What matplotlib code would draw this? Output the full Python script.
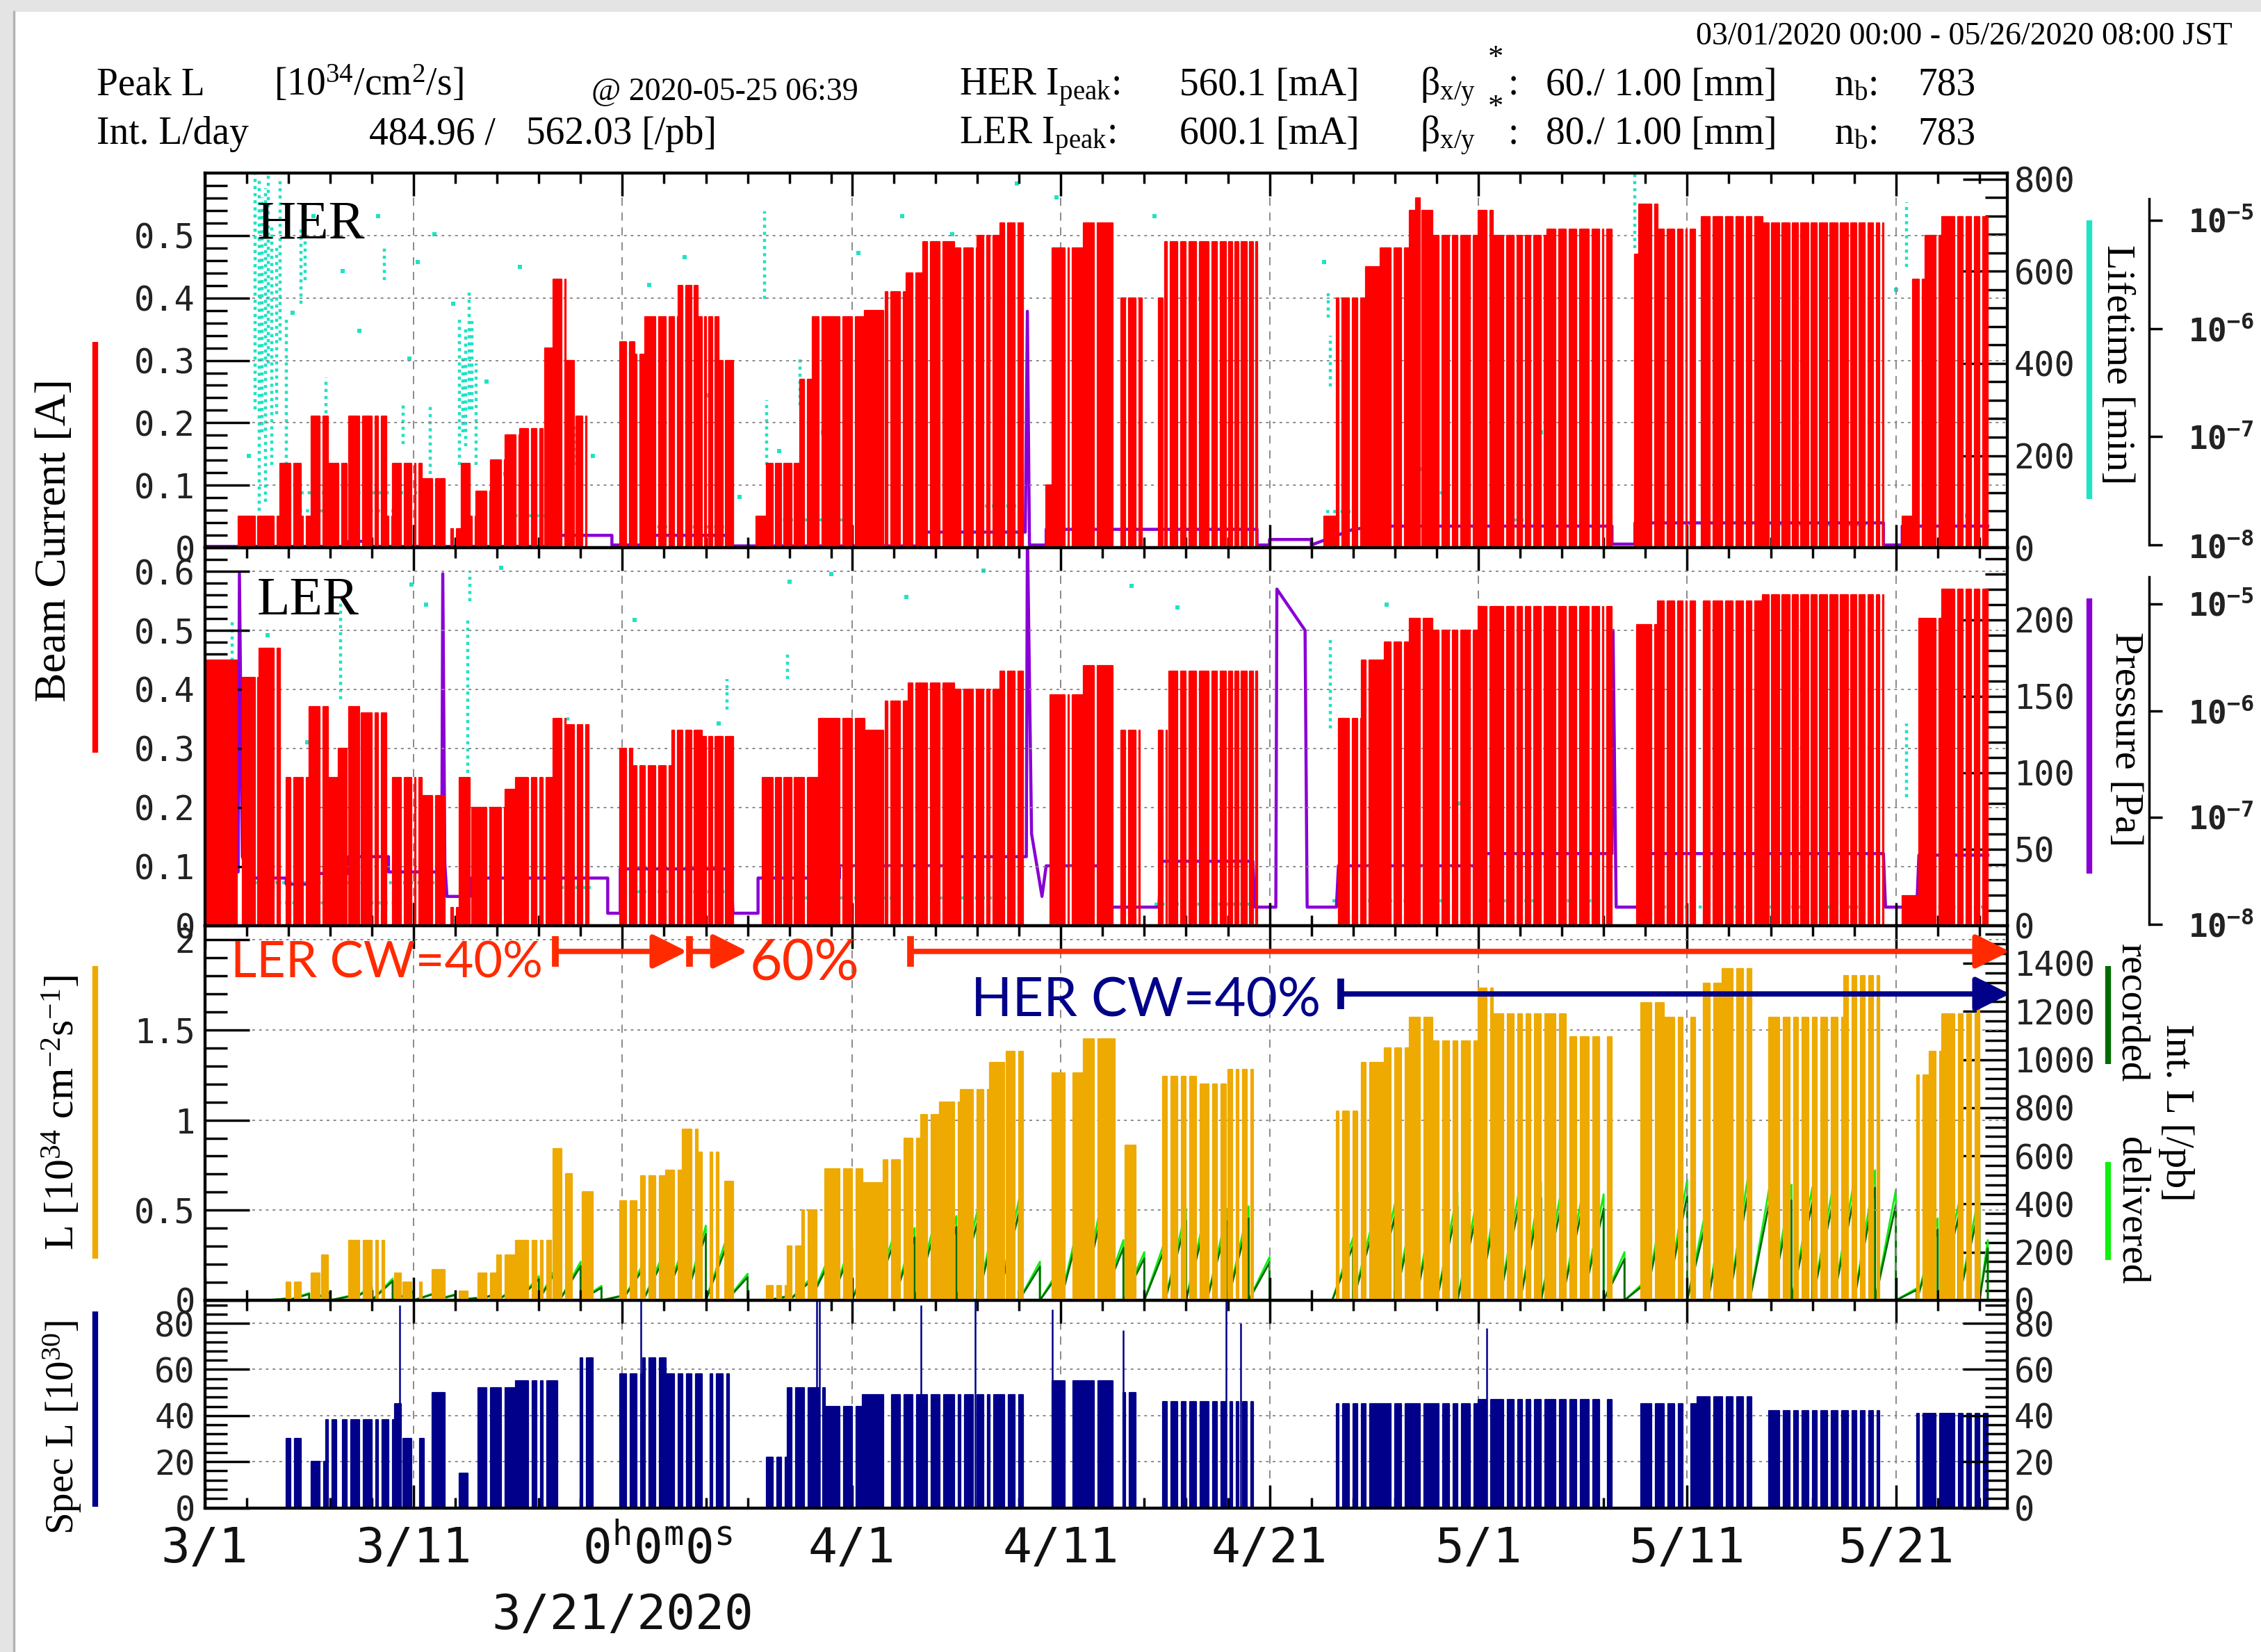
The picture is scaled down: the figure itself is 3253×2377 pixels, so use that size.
import numpy as np
import matplotlib.pyplot as plt
from matplotlib.lines import Line2D
from matplotlib.patches import Rectangle
from matplotlib.ticker import FixedLocator, NullLocator

plt.rcParams['font.family'] = ['Liberation Serif', 'DejaVu Serif']
plt.rcParams['mathtext.fontset'] = 'custom'
plt.rcParams['mathtext.rm'] = 'Liberation Serif'
plt.rcParams['mathtext.it'] = 'Liberation Serif:italic'
plt.rcParams['mathtext.tt'] = 'DejaVu Sans Mono'
plt.rcParams['mathtext.bf'] = 'DejaVu Sans Mono:bold'

# time axis in days since 2020-03-01 00:00 JST
T_END = 86.33
DATE_TICKS = [0, 10, 20, 31, 41, 51, 61, 71, 81]
DATE_LABELS = ['3/1', '3/11', '', '4/1', '4/11', '4/21', '5/1', '5/11', '5/21']
MINOR_DAYS = list(range(2, 31, 2)) + list(range(33, 86, 2))

# beam aborts (day of the drop)
BEAM_OFF = [2.4, 3.3, 4.1, 4.7, 5.5, 5.9, 6.4, 6.8, 7.4, 8.0, 8.3, 8.8, 9.4, 9.9,
            10.1, 10.9, 11.9, 12.8, 13.5, 14.2, 14.9, 15.5, 15.9, 16.2, 17.1, 17.7,
            18.1, 20.2, 20.7, 21.1, 21.6, 22.1, 22.5, 22.9, 23.3, 23.8, 24.0, 24.3,
            24.8, 27.2, 27.6, 28.1, 28.7, 29.4, 30.4, 31.0, 32.5, 32.7, 33.3, 33.9,
            34.6, 35.2, 35.9, 36.2, 36.8, 37.3, 37.6, 38.3, 38.8, 41.2, 41.4, 42.6,
            44.1, 44.6, 45.9, 46.1, 46.6, 47.0, 47.5, 48.1, 48.5, 48.9, 49.2, 49.5,
            49.9, 50.2, 54.3, 54.8, 55.2, 55.6, 56.8, 57.3, 58.2, 59.1, 59.6, 60.0,
            60.6, 61.4, 62.2, 62.7, 63.1, 63.5, 64.0, 64.7, 65.2, 65.7, 66.3, 66.8,
            67.0, 69.3, 69.9, 70.4, 70.8, 71.0, 72.1, 72.7, 73.2, 73.7, 74.1, 74.9,
            75.4, 75.9, 76.3, 76.8, 77.2, 77.7, 78.2, 78.7, 79.1, 79.5, 79.9, 80.2,
            82.1, 82.9, 83.8, 84.2, 84.6, 85.0]

# stored beam current [A]: (start day, end day, level)
HER_SEG = [(1.6, 3.6, 0.05), (3.6, 4.6, 0.135), (4.6, 5.1, 0.05), (5.1, 5.9, 0.21),
           (5.9, 6.9, 0.135), (6.9, 8.7, 0.21), (8.7, 9.0, 0.05), (9.0, 10.4, 0.135),
           (10.4, 11.5, 0.11), (11.8, 12.3, 0.03), (12.3, 12.7, 0.135), (12.7, 13.0, 0.05),
           (13.0, 13.7, 0.09), (13.7, 14.4, 0.14), (14.4, 15.1, 0.18), (15.1, 16.3, 0.19),
           (16.3, 16.7, 0.32), (16.7, 17.3, 0.43), (17.3, 17.8, 0.30), (17.8, 18.3, 0.21),
           (19.9, 20.6, 0.33), (20.6, 21.1, 0.31), (21.1, 22.7, 0.37), (22.7, 23.6, 0.42),
           (23.6, 24.6, 0.37), (24.6, 25.3, 0.30), (26.4, 26.9, 0.05), (26.9, 28.5, 0.135),
           (28.5, 29.1, 0.27), (29.1, 31.6, 0.37), (31.6, 32.6, 0.38), (32.6, 33.6, 0.41),
           (33.6, 34.4, 0.44), (34.4, 35.9, 0.49), (35.9, 37.0, 0.48), (37.0, 38.1, 0.50),
           (38.1, 39.2, 0.52), (40.3, 40.6, 0.10), (40.6, 42.1, 0.48), (42.1, 43.5, 0.52),
           (43.9, 44.9, 0.40), (45.7, 46.0, 0.40), (46.0, 48.4, 0.49), (48.4, 50.4, 0.49),
           (53.6, 54.2, 0.05), (54.2, 55.6, 0.40), (55.6, 56.3, 0.45), (56.3, 57.7, 0.48),
           (57.7, 58.0, 0.54), (58.0, 58.3, 0.56), (58.3, 58.8, 0.54), (58.8, 61.0, 0.50),
           (61.0, 61.7, 0.54), (61.7, 64.3, 0.50), (64.3, 67.4, 0.51), (68.5, 68.7, 0.47),
           (68.7, 69.6, 0.55), (69.6, 71.4, 0.51), (71.7, 74.6, 0.53), (74.6, 80.4, 0.52),
           (81.3, 81.8, 0.05), (81.8, 82.4, 0.43), (82.4, 83.2, 0.50), (83.2, 85.4, 0.53)]

LER_SEG = [(0.0, 1.55, 0.45), (1.8, 2.6, 0.42), (2.6, 3.6, 0.47), (3.9, 5.0, 0.25),
           (5.0, 5.9, 0.37), (5.9, 6.4, 0.25), (6.4, 6.9, 0.30), (6.9, 7.5, 0.37),
           (7.5, 8.7, 0.36), (9.0, 10.4, 0.25), (10.4, 11.5, 0.22), (11.8, 12.2, 0.03),
           (12.2, 12.7, 0.25), (12.8, 14.4, 0.20), (14.4, 14.9, 0.23), (14.9, 16.7, 0.25),
           (16.7, 17.3, 0.35), (17.3, 18.4, 0.34), (19.9, 20.5, 0.30), (20.5, 22.4, 0.27),
           (22.4, 23.8, 0.33), (23.8, 25.3, 0.32), (26.7, 29.4, 0.25), (29.4, 31.6, 0.35),
           (31.6, 32.6, 0.33), (32.6, 33.7, 0.38), (33.7, 35.9, 0.41), (35.9, 38.1, 0.40),
           (38.1, 39.2, 0.43), (40.5, 42.1, 0.39), (42.1, 43.5, 0.44), (43.9, 44.8, 0.33),
           (45.7, 46.2, 0.33), (46.2, 50.4, 0.43), (54.3, 55.4, 0.35), (55.4, 56.5, 0.45),
           (56.5, 57.7, 0.48), (57.7, 58.8, 0.52), (58.8, 61.0, 0.50), (61.0, 67.4, 0.54),
           (68.6, 69.6, 0.51), (69.6, 71.4, 0.55), (71.8, 74.6, 0.55), (74.6, 80.4, 0.56),
           (81.3, 82.1, 0.05), (82.1, 83.2, 0.52), (83.2, 85.4, 0.57)]

# luminosity [1e34 /cm2/s]
LUM_SEG = [(3.9, 4.6, 0.10), (5.1, 5.6, 0.15), (5.6, 5.9, 0.25), (6.9, 8.6, 0.33),
           (9.1, 9.5, 0.15), (9.5, 10.4, 0.10), (10.9, 11.5, 0.17), (12.2, 12.6, 0.05),
           (13.1, 14.0, 0.15), (14.0, 14.9, 0.25), (14.9, 16.6, 0.33), (16.7, 17.3, 0.84),
           (17.3, 17.6, 0.70), (18.1, 18.6, 0.60), (19.9, 20.9, 0.55), (20.9, 22.1, 0.69),
           (22.1, 22.9, 0.72), (22.9, 23.6, 0.95), (23.6, 24.6, 0.82), (24.9, 25.3, 0.66),
           (26.9, 27.9, 0.08), (27.9, 28.6, 0.30), (28.6, 29.3, 0.50), (29.7, 31.5, 0.73),
           (31.5, 32.5, 0.65), (32.5, 33.5, 0.78), (33.5, 34.3, 0.90), (34.3, 35.2, 1.03),
           (35.2, 36.2, 1.10), (36.2, 37.6, 1.17), (37.6, 38.4, 1.32), (38.4, 39.2, 1.38),
           (40.6, 42.1, 1.26), (42.1, 43.6, 1.45), (44.1, 44.8, 0.86), (45.9, 47.7, 1.24),
           (47.7, 49.0, 1.20), (49.0, 50.4, 1.28), (54.2, 55.4, 1.05), (55.4, 56.5, 1.32),
           (56.5, 57.7, 1.40), (57.7, 58.8, 1.57), (58.8, 61.0, 1.44), (61.0, 61.7, 1.73),
           (61.7, 65.4, 1.59), (65.4, 67.4, 1.46), (68.8, 69.9, 1.65), (69.9, 71.4, 1.57),
           (71.8, 72.7, 1.76), (72.7, 74.3, 1.84), (74.9, 78.5, 1.57), (78.5, 80.3, 1.80),
           (82.0, 82.6, 1.25), (82.6, 83.2, 1.38), (83.2, 84.9, 1.59), (84.9, 85.2, 1.75)]

# specific luminosity [1e30]
SPEC_SEG = [(3.9, 4.6, 30), (5.1, 5.8, 20), (5.8, 6.3, 38), (6.6, 9.1, 38), (9.1, 9.5, 45),
            (9.5, 10.5, 30), (10.9, 11.5, 50), (12.2, 12.6, 15), (13.1, 14.9, 52),
            (14.9, 16.9, 55), (18.0, 18.6, 65), (19.9, 21.0, 58), (21.0, 22.1, 65),
            (22.1, 25.1, 58), (26.9, 27.9, 22), (27.9, 29.7, 52), (29.7, 31.5, 44),
            (31.5, 39.2, 49), (40.6, 43.5, 55), (44.0, 44.8, 50), (45.9, 50.2, 46),
            (54.2, 61.0, 45), (61.0, 67.4, 47), (68.8, 71.5, 45), (71.5, 74.3, 48),
            (74.9, 80.3, 42), (82.0, 85.4, 41)]
SPEC_SPIKES = [(9.35, 88), (20.9, 90), (29.3, 90), (29.45, 90), (34.3, 88), (36.9, 90),
               (40.6, 86), (44.0, 77), (48.9, 90), (49.6, 80), (61.4, 78)]

# integrated luminosity per day [/pb], one value per day from 3/1
DELIVERED = [0, 0, 0, 8, 30, 35, 20, 60, 90, 40,
             30, 25, 10, 30, 60, 100, 170, 160, 60, 20,
             150, 200, 240, 310, 260, 110, 0, 20, 90, 200,
             250, 240, 270, 300, 340, 350, 370, 400, 420, 160,
             140, 380, 430, 250, 200, 250, 380, 400, 380, 390,
             180, 0, 0, 0, 260, 350, 400, 440, 480, 450,
             450, 500, 480, 490, 470, 450, 440, 200, 80, 480,
             500, 420, 530, 562, 500, 480, 470, 480, 500, 540,
             460, 50, 340, 400, 450, 250]
RECORDED = [0, 0, 0, 7, 26, 31, 17, 52, 80, 35,
            27, 22, 9, 26, 53, 88, 150, 142, 52, 18,
            132, 176, 212, 275, 228, 96, 0, 17, 78, 174,
            218, 210, 236, 262, 296, 305, 322, 350, 366, 140,
            122, 330, 372, 218, 175, 218, 330, 348, 330, 340,
            157, 0, 0, 0, 226, 304, 348, 382, 415, 390,
            390, 433, 415, 425, 406, 390, 380, 172, 69, 415,
            433, 362, 458, 485, 433, 415, 406, 415, 432, 468,
            398, 43, 294, 345, 390, 216]

# vacuum pressure traces, in units of the right-hand scales
HER_PRESSURE = [(0.0, 3), (6.9, 3), (6.9, 14), (7.9, 14), (7.9, 3), (16.5, 3), (16.5, 27),
                (19.5, 27), (19.5, 6), (21.0, 6), (21.0, 27), (25.0, 27), (25.0, 4),
                (34.3, 4), (34.3, 34), (39.3, 34), (39.4, 513), (39.5, 6), (40.3, 6),
                (40.3, 40), (50.4, 40), (50.4, 6), (51.0, 6), (51.0, 18), (53.0, 18),
                (53.0, 6), (55.0, 40), (56.3, 47), (67.4, 47), (67.4, 8), (68.5, 8),
                (68.5, 54), (74.5, 54), (74.6, 486), (74.7, 54), (80.4, 54), (80.4, 6),
                (81.3, 6), (81.3, 47), (85.4, 47)]
LER_PRESSURE = [(0.0, 35), (1.6, 35), (1.66, 230), (1.8, 45), (2.2, 31), (3.9, 31),
                (3.9, 27), (5.0, 27), (5.0, 34), (6.9, 34), (6.9, 45), (8.8, 45),
                (8.8, 35), (11.35, 35), (11.4, 230), (11.5, 40), (11.6, 19), (12.7, 19),
                (12.7, 31), (19.3, 31), (19.3, 8), (19.9, 8), (19.9, 37), (25.2, 37),
                (25.3, 8), (26.5, 8), (26.5, 31), (30.4, 31), (30.4, 39), (35.9, 39),
                (35.9, 45), (39.35, 45), (39.4, 260), (39.6, 60), (40.1, 19), (40.3, 39),
                (43.3, 39), (43.4, 12), (45.7, 12), (45.8, 42), (50.2, 42), (50.3, 12),
                (51.3, 12), (51.35, 220), (52.7, 193), (52.8, 12), (54.2, 12), (54.3, 39),
                (61.0, 39), (61.0, 47), (67.4, 47), (67.45, 193), (67.6, 12), (68.7, 12),
                (68.8, 47), (80.4, 47), (80.5, 12), (82.0, 12), (82.1, 46), (85.4, 46)]

# beam lifetime readings: streaks (day, low, high), single points, flat runs
HER_LT_STREAKS = [(2.4, 300, 810), (2.6, 80, 800), (2.75, 250, 760), (2.9, 100, 780),
                  (3.05, 400, 810), (3.2, 180, 700), (3.45, 290, 650), (3.6, 450, 800),
                  (3.9, 180, 500), (4.6, 530, 690), (4.8, 580, 720), (5.8, 200, 370),
                  (8.6, 580, 650), (9.5, 225, 310), (10.8, 160, 310), (12.2, 180, 500),
                  (12.35, 250, 420), (12.5, 220, 480), (12.65, 300, 560), (12.8, 300, 500),
                  (13.0, 180, 400), (16.4, 80, 360), (17.7, 180, 270), (26.8, 540, 730),
                  (26.9, 180, 320), (28.5, 310, 410), (53.8, 500, 560), (53.9, 350, 460),
                  (68.5, 650, 810), (68.6, 290, 350), (81.5, 610, 750)]
HER_LT_DOTS = [(2.1, 200), (4.2, 510), (5.2, 720), (6.6, 600), (7.4, 470), (8.3, 720),
               (9.8, 410), (10.2, 620), (11.0, 680), (11.9, 530), (13.5, 360), (14.4, 160),
               (15.1, 610), (17.0, 540), (18.6, 200), (21.3, 570), (23.0, 630), (24.1, 330),
               (25.6, 110), (27.5, 210), (29.6, 250), (31.3, 640), (33.4, 720), (35.8, 680),
               (38.9, 790), (40.8, 760), (45.5, 720), (47.7, 540), (53.6, 620), (55.9, 230),
               (58.3, 170), (64.0, 250), (69.2, 570), (72.0, 120), (78.1, 680), (81.0, 560),
               (84.4, 70)]
HER_LT_BAND = [(3.9, 10.5, 120), (4.5, 9.5, 80), (14.5, 17.0, 70), (21.0, 25.0, 45),
               (27.0, 31.0, 60), (36.0, 39.2, 90), (53.7, 56.0, 78), (58.8, 60.5, 120),
               (62.0, 63.5, 60), (74.0, 80.0, 50)]
LER_LT_STREAKS = [(1.3, 150, 200), (6.5, 148, 212), (12.6, 100, 200), (12.7, 212, 231),
                  (17.4, 106, 139), (25.0, 141, 161), (27.9, 161, 180), (53.9, 129, 187),
                  (81.5, 84, 132)]
LER_LT_DOTS = [(3.0, 190), (4.9, 120), (9.9, 223), (10.6, 210), (14.2, 234), (20.6, 200),
               (24.6, 132), (28.0, 225), (30.0, 230), (33.6, 215), (37.3, 232), (44.4, 222),
               (46.6, 208), (56.6, 210), (60.1, 80), (75.2, 50), (79.8, 60)]
LER_LT_BAND = [(2.0, 11.5, 28), (3.5, 10.0, 15), (14.0, 18.5, 25), (20.0, 25.0, 22),
               (27.0, 39.0, 18), (45.5, 50.5, 14), (54.0, 67.0, 16), (68.5, 80.4, 12),
               (82.0, 85.4, 12)]

RED = '#ff0000'
TURQ = '#1ee3c4'
PURPLE = '#8a00d4'
ORANGE = '#eeaa00'
DKGREEN = '#006b00'
LTGREEN = '#11ee11'
NAVY = '#00008b'
CW_RED = '#ff2a00'
CW_NAVY = '#000088'
TICK_C = '#222222'


def fx(x):
    return x / 1568.0


def fy(y):
    return 1.0 - y / 1146.0


def run_outline(segs, gaps, width):
    # rectangles of beam-on time, split at every abort
    xs, ys = [], []
    for a, b, v in segs:
        s = a
        for g in gaps:
            if a < g < b:
                if g > s:
                    xs += [s, s, g, g]
                    ys += [0, v, v, 0]
                s = max(s, g + width)
        if b > s:
            xs += [s, s, b, b]
            ys += [0, v, v, 0]
    return xs, ys


fig = plt.figure(figsize=(32.53, 23.77), dpi=100, facecolor='#e4e4e4')
fig.patches.append(Rectangle((0.0062, 0), 1.0, 0.9928, transform=fig.transFigure,
                             facecolor='white', edgecolor='none', zorder=-5))
fig.add_artist(Line2D([0.0062, 0.0062], [0, 0.9928], color='#b4b4b4', lw=2.5, zorder=-4))


def panel(top, bottom):
    ax = fig.add_axes([fx(142), fy(bottom), fx(1392) - fx(142), fy(top) - fy(bottom)])
    tw = ax.twinx()
    return ax, tw


def dress(ax, tw, ylim, yt, ylab, ymin, tlim, tt, tlab, tmin):
    ax.set_xlim(0, T_END)
    ax.set_ylim(*ylim)
    tw.set_ylim(*tlim)
    ax.set_yticks(yt, labels=ylab)
    ax.yaxis.set_minor_locator(FixedLocator(ymin))
    tw.set_yticks(tt, labels=tlab)
    tw.yaxis.set_minor_locator(FixedLocator(tmin))
    ax.set_xticks(DATE_TICKS, labels=[''] * len(DATE_TICKS))
    ax.xaxis.set_minor_locator(FixedLocator(MINOR_DAYS))
    ax.tick_params(axis='x', which='both', direction='in', top=True, bottom=True,
                   labelbottom=False, width=2.5, color='black')
    ax.tick_params(axis='x', which='major', length=24)
    ax.tick_params(axis='x', which='minor', length=11)
    tw.tick_params(axis='x', which='both', top=False, bottom=False)
    for a in (ax, tw):
        a.tick_params(axis='y', which='both', direction='in', width=2.5, labelsize=35,
                      labelcolor=TICK_C, labelfontfamily='DejaVu Sans Mono')
        a.tick_params(axis='y', which='major', length=46)
        a.tick_params(axis='y', which='minor', length=23)
        for s in a.spines.values():
            s.set_linewidth(3)
    ax.tick_params(axis='y', which='both', left=True, right=False)
    ax.tick_params(axis='y', which='major', pad=10)
    tw.tick_params(axis='y', which='both', left=False, right=True)
    tw.tick_params(axis='y', which='major', pad=7)
    ax.grid(True, which='major', axis='x', color='#8a8a8a', lw=1.4, ls=(0, (6, 5)))
    ax.grid(True, which='major', axis='y', color='#8a8a8a', lw=1.4, ls=(0, (2, 3)))
    ax.set_axisbelow(True)


def lifetime_marks(tw, streaks, dots, band):
    t, lo, hi = zip(*streaks)
    tw.vlines(t, lo, hi, color=TURQ, lw=3.2, linestyles=[(0, (1, 1.3))])
    t, v = zip(*dots)
    tw.scatter(t, v, marker='s', s=16, color=TURQ, lw=0)
    a, b, v = zip(*band)
    tw.hlines(v, a, b, color=TURQ, lw=3.2, linestyles=[(0, (1, 1.3))])


ax_her, tw_her = panel(120, 380)
ax_ler, tw_ler = panel(380, 642)
ax_lum, tw_lum = panel(642, 902)
ax_sp, tw_sp = panel(902, 1046)

# main traces sit above the right-hand-scale traces
for ax, tw in ((ax_her, tw_her), (ax_ler, tw_ler), (ax_lum, tw_lum)):
    ax.set_zorder(tw.get_zorder() + 1)
    ax.patch.set_visible(False)
    tw.patch.set_visible(True)
    tw.patch.set_facecolor('white')
tw_sp.patch.set_visible(False)

dress(ax_her, tw_her, (0, 0.6), [0, 0.1, 0.2, 0.3, 0.4, 0.5],
      ['0', '0.1', '0.2', '0.3', '0.4', '0.5'], np.arange(0.02, 0.6, 0.02),
      (0, 813), [0, 200, 400, 600, 800], ['0', '200', '400', '600', '800'],
      np.arange(40, 813, 40))
dress(ax_ler, tw_ler, (0, 0.64), [0, 0.1, 0.2, 0.3, 0.4, 0.5, 0.6],
      ['0', '0.1', '0.2', '0.3', '0.4', '0.5', '0.6'], np.arange(0.02, 0.64, 0.02),
      (0, 247), [0, 50, 100, 150, 200], ['0', '50', '100', '150', '200'],
      np.arange(10, 247, 10))
dress(ax_lum, tw_lum, (0, 2.08), [0, 0.5, 1.0, 1.5, 2.0], ['0', '0.5', '1', '1.5', '2'],
      np.arange(0.1, 2.08, 0.1), (0, 1557),
      [0, 200, 400, 600, 800, 1000, 1200, 1400],
      ['0', '200', '400', '600', '800', '1000', '1200', '1400'], np.arange(40, 1557, 40))
dress(ax_sp, tw_sp, (0, 90), [0, 20, 40, 60, 80], ['0', '20', '40', '60', '80'],
      np.arange(4, 90, 4), (0, 90), [0, 20, 40, 60, 80], ['0', '20', '40', '60', '80'],
      np.arange(4, 90, 4))

# HER / LER currents with lifetime and pressure
for ax, tw, segs, streaks, dots, band, pres in (
        (ax_her, tw_her, HER_SEG, HER_LT_STREAKS, HER_LT_DOTS, HER_LT_BAND, HER_PRESSURE),
        (ax_ler, tw_ler, LER_SEG, LER_LT_STREAKS, LER_LT_DOTS, LER_LT_BAND, LER_PRESSURE)):
    lifetime_marks(tw, streaks, dots, band)
    pt, pv = zip(*pres)
    tw.plot(pt, pv, color=PURPLE, lw=3.2)
    xs, ys = run_outline(segs, BEAM_OFF, 0.16)
    ax.fill(xs, ys, color=RED, lw=0)
    ax.plot(xs, ys, color=RED, lw=1.6)

ax_her.text(0.0288, 0.827, 'HER', transform=ax_her.transAxes, fontsize=56, zorder=10)
ax_ler.text(0.0288, 0.824, 'LER', transform=ax_ler.transAxes, fontsize=56, zorder=10)

# luminosity and per-day integrated luminosity
xs, ys = run_outline(LUM_SEG, BEAM_OFF, 0.2)
ax_lum.fill(xs, ys, color=ORANGE, lw=0)
ax_lum.plot(xs, ys, color=ORANGE, lw=1.6)
for vals, col in ((DELIVERED, LTGREEN), (RECORDED, DKGREEN)):
    gx, gy = [], []
    for d, v in enumerate(vals):
        if v > 0:
            e = min(d + 1, 85.4)
            gx += [d, e, e]
            gy += [0, v, 0]
    tw_lum.plot(gx, gy, color=col, lw=2)

# crab waist annotations
ax_lum.text(1.25, 1.79, 'LER CW=40%', color=CW_RED, fontsize=52,
            fontfamily=['Lato', 'DejaVu Sans'], va='baseline')
ax_lum.text(26.1, 1.776, '60%', color=CW_RED, fontsize=58, fontfamily=['Lato', 'DejaVu Sans'],
            va='baseline')
ax_lum.text(36.7, 1.576, 'HER CW=40%', color=CW_NAVY, fontsize=56,
            fontfamily=['Lato', 'DejaVu Sans'], va='baseline')
for x0, x1, y, col in ((16.8, 23.1, 1.936, CW_RED), (23.2, 26.0, 1.936, CW_RED),
                       (33.8, 86.45, 1.936, CW_RED), (54.4, 86.45, 1.70, CW_NAVY)):
    ax_lum.plot([x0, x0], [y - 0.085, y + 0.085], color=col, lw=7, solid_capstyle='butt',
                clip_on=False, zorder=6)
    ax_lum.annotate('', xy=(x1, y), xytext=(x0, y), annotation_clip=False, zorder=6,
                    arrowprops=dict(arrowstyle='-|>,head_length=1.0,head_width=0.5',
                                    lw=5.5, color=col, mutation_scale=30,
                                    shrinkA=0, shrinkB=0))

# specific luminosity
xs, ys = run_outline(SPEC_SEG, BEAM_OFF, 0.2)
ax_sp.fill(xs, ys, color=NAVY, lw=0)
ax_sp.plot(xs, ys, color=NAVY, lw=1.6)
st, sv = zip(*SPEC_SPIKES)
ax_sp.vlines(st, 0, sv, color=NAVY, lw=1.8)

ax_sp.set_xticks(DATE_TICKS, labels=DATE_LABELS)
ax_sp.tick_params(axis='x', which='major', labelbottom=True, labelsize=50, pad=18,
                  labelcolor='#111111', labelfontfamily='DejaVu Sans Mono')
ax_sp.text(21.7, -0.27, r'$\mathtt{0^{h}0^{m}0^{s}}$', transform=ax_sp.get_xaxis_transform(),
           ha='center', va='baseline', fontsize=50, color='#111111')
ax_sp.text(20, -0.583, '3/21/2020', transform=ax_sp.get_xaxis_transform(), ha='center',
           va='baseline', fontsize=50, fontfamily='DejaVu Sans Mono', color='#111111')


# outer log scales
def log_scale(top, bottom, hi_exp):
    a = fig.add_axes([fx(1490), fy(bottom), 0.0004, fy(top) - fy(bottom)])
    a.set_yscale('log')
    a.set_ylim(1e-8, 10 ** hi_exp)
    a.patch.set_visible(False)
    for s in ('left', 'top', 'bottom'):
        a.spines[s].set_visible(False)
    a.spines['right'].set_linewidth(2.5)
    a.yaxis.set_ticks_position('right')
    a.set_yticks([1e-8, 1e-7, 1e-6, 1e-5],
                 labels=[r'$\mathbf{10^{-8}}$', r'$\mathbf{10^{-7}}$',
                         r'$\mathbf{10^{-6}}$', r'$\mathbf{10^{-5}}$'])
    a.yaxis.set_minor_locator(NullLocator())
    a.tick_params(axis='y', direction='out', length=14, width=2.5, pad=26, labelsize=33,
                  labelcolor=TICK_C)
    a.set_xticks([])


log_scale(138, 378, -4.8)
log_scale(400, 641, -4.743)

# axis titles with colour keys
def key(x, y0, y1, col):
    fig.add_artist(Line2D([fx(x), fx(x)], [fy(y0), fy(y1)], color=col, lw=6,
                          solid_capstyle='butt'))


fig.text(fx(38), fy(375), 'Beam Current [A]', rotation=90, ha='center', va='center', fontsize=46)
key(66, 237, 522, RED)
fig.text(fx(43), fy(772), r'L [10$^{34}$ cm$^{-2}$s$^{-1}$]', rotation=90, ha='center',
         va='center', fontsize=43)
key(66, 670, 873, ORANGE)
fig.text(fx(43), fy(990), r'Spec L [10$^{30}$]', rotation=90, ha='center', va='center',
         fontsize=41)
key(66, 910, 1045, NAVY)

fig.text(fx(1468), fy(253), 'Lifetime [min]', rotation=270, ha='center', va='center', fontsize=42)
key(1449, 153, 346, TURQ)
fig.text(fx(1474), fy(513), 'Pressure [Pa]', rotation=270, ha='center', va='center', fontsize=42)
key(1449, 415, 606, PURPLE)
fig.text(fx(1478), fy(703), 'recorded', rotation=270, ha='center', va='center', fontsize=41)
key(1462, 670, 738, DKGREEN)
fig.text(fx(1478), fy(840), 'delivered', rotation=270, ha='center', va='center', fontsize=41)
key(1462, 806, 874, LTGREEN)
fig.text(fx(1509), fy(772), 'Int. L [/pb]', rotation=270, ha='center', va='center', fontsize=42)

# header block
HS = 40
fig.text(fx(1548), fy(31), '03/01/2020 00:00 - 05/26/2020 08:00 JST', ha='right',
         va='baseline', fontsize=33)
row1, row2 = 66, 100
fig.text(fx(67), fy(row1), 'Peak L', va='baseline', fontsize=HS)
fig.text(fx(190), fy(row1), r'[10$^{34}$/cm$^{2}$/s]', va='baseline', fontsize=HS)
fig.text(fx(410), fy(row1 + 3), '@ 2020-05-25 06:39', va='baseline', fontsize=33)
fig.text(fx(67), fy(row2), 'Int. L/day', va='baseline', fontsize=HS)
fig.text(fx(256), fy(row2), '484.96 /', va='baseline', fontsize=HS)
fig.text(fx(365), fy(row2), '562.03 [/pb]', va='baseline', fontsize=HS)
for yrow, star_y, ring, cur, beta in ((row1, 46, 'HER', '560.1 [mA]', '60./ 1.00 [mm]'),
                                      (row2, 80, 'LER', '600.1 [mA]', '80./ 1.00 [mm]')):
    fig.text(fx(665), fy(yrow), ring + r' I$_{\mathrm{peak}}$:', va='baseline', fontsize=HS)
    fig.text(fx(818), fy(yrow), cur, va='baseline', fontsize=HS)
    fig.text(fx(985), fy(yrow), r'β$_{\mathrm{x/y}}$', va='baseline', fontsize=HS)
    fig.text(fx(1032), fy(star_y), '*', va='baseline', fontsize=32)
    fig.text(fx(1046), fy(yrow), ':', va='baseline', fontsize=HS)
    fig.text(fx(1072), fy(yrow), beta, va='baseline', fontsize=HS)
    fig.text(fx(1272), fy(yrow), r'n$_{\mathrm{b}}$:', va='baseline', fontsize=HS)
    fig.text(fx(1330), fy(yrow), '783', va='baseline', fontsize=HS)

fig.savefig('out.png', dpi=100, facecolor=fig.get_facecolor())
